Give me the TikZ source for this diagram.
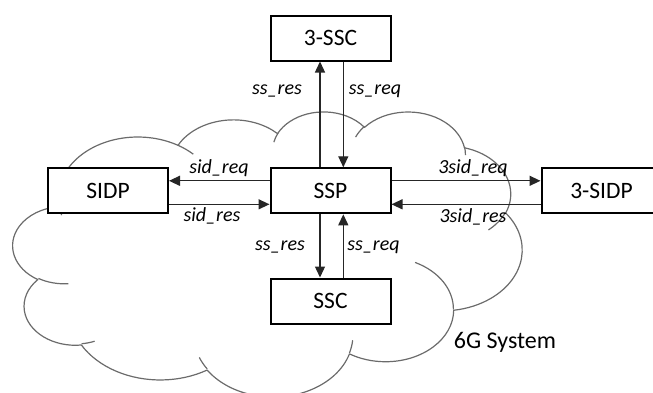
\documentclass[tikz,border=0pt]{standalone}
\usepackage{fontspec}
\setmainfont{Carlito}
\usetikzlibrary{arrows.meta}

% Parametric start/end angles of an elliptic arc given by visual angles
% #1,#2: macros to set; #3 wR, #4 hR, #5 start angle, #6 sweep
\newcommand\cloudang[6]{%
  \pgfmathsetmacro#1{atan2(#3*sin(#5),#4*cos(#5))}%
  \pgfmathsetmacro#2{atan2(#3*sin(#5+#6),#4*cos(#5+#6))}%
  \pgfmathsetmacro#2{#1+mod(#2-#1+720,360)}%
}

\tikzset{
  box/.style={draw=black, line width=2pt, fill=white, minimum width=120pt,
    minimum height=45pt, inner sep=0pt, font=\fontsize{23.5}{26}\selectfont},
  arr/.style={draw=black!85, line width=1.3pt, -{Triangle[length=11pt,width=10pt]}},
  lbl/.style={inner sep=0pt, font=\fontsize{20}{22}\selectfont\itshape},
  cloudline/.style={draw=black!58, line width=1.2pt, line join=round},
}

\begin{document}
\begin{tikzpicture}[x=1pt, y=-1pt]
\useasboundingbox (0,0) rectangle (653,392);

% ---- cloud outline (lobes, then the small inner creases) ----
\begin{scope}[shift={(13,111)}, x=11.782pt, y=-6.597pt]
  \cloudang\sA\eA{6.753}{9.190}{-190.4875}{123.7805}
  \cloudang\sB\eB{5.333}{7.267}{-144.1024}{89.9452}
  \cloudang\sC\eC{4.365}{5.945}{-145.8079}{99.7230}
  \cloudang\sD\eD{4.857}{6.595}{-130.9861}{117.2417}
  \cloudang\sE\eE{5.333}{7.273}{-78.7089}{109.0269}
  \cloudang\sF\eF{6.775}{9.220}{-46.2673}{130.2690}
  \cloudang\sG\eG{5.785}{7.867}{0.6250}{114.0333}
  \cloudang\sH\eH{6.752}{9.215}{22.4516}{115.1726}
  \cloudang\sI\eI{7.720}{10.543}{66.2426}{75.7110}
  \cloudang\sJ\eJ{4.360}{5.918}{-274.9421}{146.7356}
  \cloudang\sK\eK{4.345}{5.945}{-246.8285}{152.5189}
  \draw[cloudline] (3.900,14.370)
    arc[start angle=\sA, end angle=\eA, x radius=6.753, y radius=9.190]
    arc[start angle=\sB, end angle=\eB, x radius=5.333, y radius=7.267]
    arc[start angle=\sC, end angle=\eC, x radius=4.365, y radius=5.945]
    arc[start angle=\sD, end angle=\eD, x radius=4.857, y radius=6.595]
    arc[start angle=\sE, end angle=\eE, x radius=5.333, y radius=7.273]
    arc[start angle=\sF, end angle=\eF, x radius=6.775, y radius=9.220]
    arc[start angle=\sG, end angle=\eG, x radius=5.785, y radius=7.867]
    arc[start angle=\sH, end angle=\eH, x radius=6.752, y radius=9.215]
    arc[start angle=\sI, end angle=\eI, x radius=7.720, y radius=10.543]
    arc[start angle=\sJ, end angle=\eJ, x radius=4.360, y radius=5.918]
    arc[start angle=\sK, end angle=\eK, x radius=4.345, y radius=5.945]
    -- cycle;

  \cloudang\fsA\feA{4.345}{5.945}{86.7420}{26.4295}
  \cloudang\fsB\feB{4.360}{5.918}{73.6105}{11.4475}
  \cloudang\fsC\feC{6.752}{9.215}{137.6242}{14.0811}
  \cloudang\fsD\feD{6.752}{9.215}{6.4533}{15.9984}
  \cloudang\fsE\feE{5.785}{7.867}{-70.2924}{70.9174}
  \cloudang\fsF\feF{5.333}{7.273}{30.3180}{27.7515}
  \cloudang\fsG\feG{4.857}{6.595}{-13.7443}{14.8589}
  \cloudang\fsH\feH{4.857}{6.595}{-149.1815}{18.1954}
  \cloudang\fsI\feI{4.365}{5.945}{-163.4943}{17.6864}
  \cloudang\fsJ\feJ{6.753}{9.190}{-66.7070}{12.3194}
  \cloudang\fsK\feK{6.753}{9.190}{157.6544}{11.8582}
  \draw[cloudline]
    (4.693,26.177) arc[start angle=\fsA, end angle=\feA, x radius=4.345, y radius=5.945]
    (6.928,34.899) arc[start angle=\fsB, end angle=\feB, x radius=4.360, y radius=5.918]
    (16.478,39.090) arc[start angle=\fsC, end angle=\feC, x radius=6.752, y radius=9.215]
    (28.827,34.751) arc[start angle=\fsD, end angle=\feD, x radius=6.752, y radius=9.215]
    (34.129,22.954) arc[start angle=\fsE, end angle=\feE, x radius=5.785, y radius=7.867]
    (41.798,15.354) arc[start angle=\fsF, end angle=\feF, x radius=5.333, y radius=7.273]
    (38.324,5.426) arc[start angle=\fsG, end angle=\feG, x radius=4.857, y radius=6.595]
    (29.078,3.952) arc[start angle=\fsH, end angle=\feH, x radius=4.857, y radius=6.595]
    (22.141,4.720) arc[start angle=\fsI, end angle=\feI, x radius=4.365, y radius=5.945]
    (14.000,5.192) arc[start angle=\fsJ, end angle=\feJ, x radius=6.753, y radius=9.190]
    (4.127,15.789) arc[start angle=\fsK, end angle=\feK, x radius=6.753, y radius=9.190];
\end{scope}

% ---- components ----
\node[box] (tssc)  at (330.5,38)  {3-SSC};
\node[box] (ssp)   at (330.5,190.8) {SSP};
\node[box] (ssc)   at (330.5,301) {SSC};
\node[box] (sidp)  at (108,190.8) {SIDP};
\node[box] (tsidp) at (601.5,190.8) {3-SIDP};

% ---- message flows ----
\draw[arr] ([xshift=-10.5pt]ssp.north) -- ([xshift=-10.5pt]tssc.south);
\draw[arr] ([xshift=12.8pt]tssc.south) -- ([xshift=12.8pt]ssp.north);
\draw[arr] ([xshift=-10.5pt]ssp.south) -- ([xshift=-10.5pt]ssc.north);
\draw[arr] ([xshift=12.8pt]ssc.north) -- ([xshift=12.8pt]ssp.south);
\draw[arr] ([yshift=10pt]ssp.west) -- ([yshift=10pt]sidp.east);
\draw[arr] ([yshift=-13.5pt]sidp.east) -- ([yshift=-13.5pt]ssp.west);
\draw[arr] ([yshift=10pt]ssp.east) -- ([yshift=10pt]tsidp.west);
\draw[arr] ([yshift=-13.5pt]tsidp.west) -- ([yshift=-13.5pt]ssp.east);

% ---- labels ----
\node[lbl] (l1) at (277,91)  {ss\_res};
\node[lbl] (l2) at (375,91)  {ss\_req};
\node[lbl] (l3) at (280,247) {ss\_res};
\node[lbl] (l4) at (373.5,247) {ss\_req};
\node[lbl] (l5) at (219,168) {sid\_req};
\node[lbl] (l6) at (212,216) {sid\_res};
\node[lbl] (l7) at (473,168) {3sid\_req};
\node[lbl] (l8) at (473,217) {3sid\_res};
\node[inner sep=0pt, font=\fontsize{24}{26}\selectfont] (sys) at (505,342) {6G System};
\end{tikzpicture}
\end{document}
